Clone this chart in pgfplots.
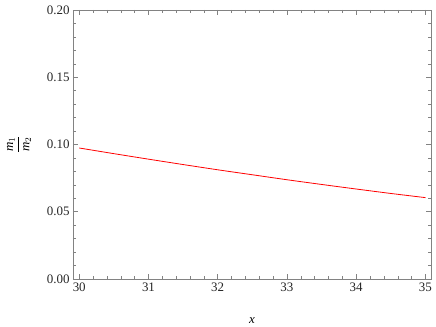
\documentclass[border=0pt]{standalone}
\usepackage{fontspec}
\setmainfont{Liberation Serif}
\usepackage{graphicx}
\usepackage{pgfplots}
\pgfplotsset{compat=1.18}
\definecolor{framegray}{RGB}{130,130,130}
\begin{document}
\begin{tikzpicture}
\useasboundingbox (-73bp,-48bp) rectangle (363bp,279bp);
\begin{axis}[
  at={(0,0)}, anchor=south west,
  scale only axis, width=358bp, height=269bp,
  xmin=29.91, xmax=35.08, ymin=0, ymax=0.2,
  xtick={30,31,32,33,34,35},
  ytick={0,0.05,0.1,0.15,0.2},
  minor x tick num=4, minor y tick num=4,
  tick pos=both, ticklabel pos=left,
  tick align=inside,
  major tick length=5bp, minor tick length=2.7bp,
  every tick/.style={framegray, line width=0.5bp},
  axis line style={framegray, line width=0.7bp},
  /pgf/number format/assume math mode=true,
  yticklabel style={/pgf/number format/.cd, fixed, fixed zerofill, precision=2},
  ticklabel style={font=\rmfamily\fontsize{13}{15}\selectfont, text=black!85},
  xlabel={\rmfamily\fontsize{13}{15}\selectfont\itshape x},
  ylabel={\fontsize{13}{15}\selectfont\rotatebox{90}{$\displaystyle\frac{\textit{m}_1}{\textit{m}_2}$}},
  xlabel style={at={(axis description cs:0.5,-0.1561)}, anchor=center},
  ylabel style={at={(axis description cs:-0.1508,0.5)}, anchor=center, rotate=-90},
]
\addplot[red, line width=0.8bp, smooth] coordinates {
(30,0.0974) (30.5,0.0932) (31,0.0891) (31.5,0.0851) (32,0.0812)
(32.5,0.0775) (33,0.0738) (33.5,0.0703) (34,0.0669) (34.5,0.0636) (35,0.0605)
};
\end{axis}
\end{tikzpicture}
\end{document}
